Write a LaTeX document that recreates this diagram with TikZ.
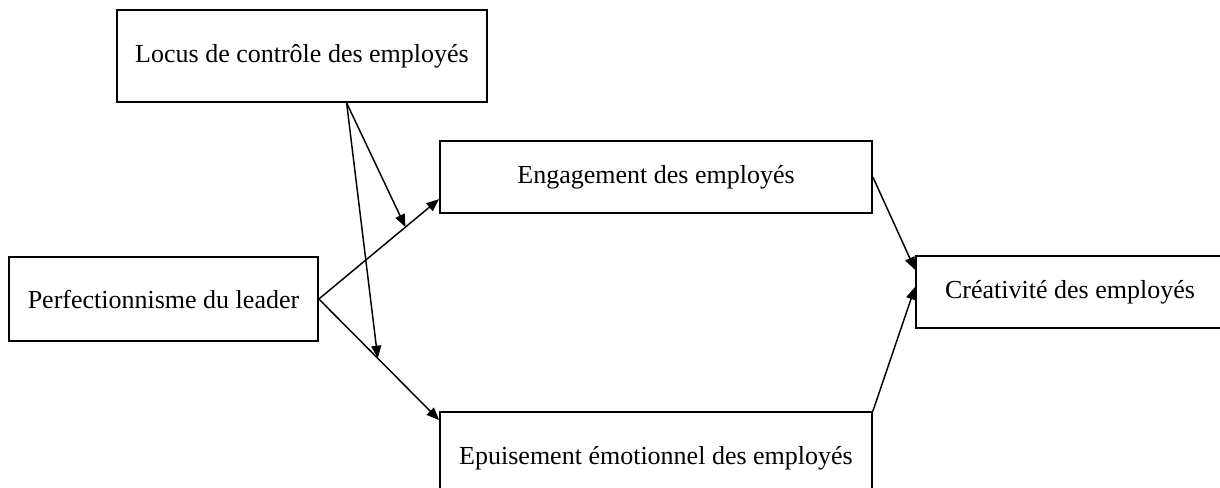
\documentclass[tikz,border=0pt]{standalone}
\usepackage{fontspec}
\setmainfont{Liberation Serif}
\usetikzlibrary{calc,arrows.meta}
\begin{document}
\begin{tikzpicture}[x=0.75pt, y=-0.75pt,
    box/.style={draw, line width=1.3pt, rectangle, inner sep=0pt,
      font=\fontsize{19.5}{23}\selectfont},
    link/.style={line width=1.1pt, -{Triangle[length=9.5pt,width=7.5pt]}}]
      \useasboundingbox (0,0) rectangle (1220,487);
      \clip (0,0) rectangle (1220,487);
      %
      \node[box, minimum width=277.5pt, minimum height=69pt] (locus) at (302,56) {Locus de contrôle des employés};  % moderator
      \node[box, minimum width=231.75pt, minimum height=63pt] (perf) at (163.5,299) {Perfectionnisme du leader};     % cause
      \node[box, minimum width=324pt, minimum height=54pt] (engag) at (656,177) {Engagement des employés};           % mediators
      \node[box, minimum width=324pt, minimum height=69pt] (epuis) at (656,458) {Epuisement émotionnel des employés};
      \node[box, minimum width=231pt, minimum height=54pt] (creat) at (1070,292) {Créativité des employés};         % outcome
      %
      \coordinate (engin) at ($(engag.south west)!0.2!(engag.north west)$);   % ends on the left sides
      \coordinate (epuin) at ($(epuis.north west)+(0,9)$);
      \coordinate (crin1) at ($(creat.north west)!0.2!(creat.south west)$);
      \coordinate (crin2) at ($(creat.north west)!0.43!(creat.south west)$);
      \coordinate (lout) at ($(locus.south west)!0.62!(locus.south east)$);
      %
      \draw[link] (perf.east) -- (engin);     % direct paths
      \draw[link] (perf.east) -- (epuin);
      \draw[link] (engag.east) -- (crin1);
      \draw[link] (epuis.north east) -- (crin2);
      %
      \coordinate (mod1) at ($(perf.east)!0.72!(engin)$);  % onto the paths
      \coordinate (mod2) at ($(perf.east)!0.49!(epuin)$);
      \draw[link] (lout) -- (mod1);
      \draw[link] (lout) -- (mod2);
      %
\end{tikzpicture}
\end{document}
